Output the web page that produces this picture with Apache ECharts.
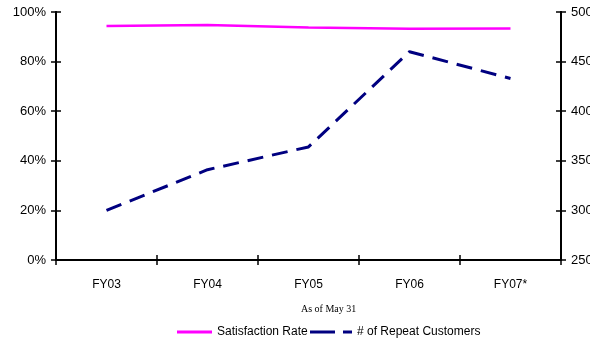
<!DOCTYPE html>
<html>
<head>
<meta charset="utf-8">
<script src="https://cdn.jsdelivr.net/npm/echarts@6/dist/echarts.min.js"></script>
<style>
html,body{margin:0;padding:0;background:#fff;}
#chart{width:590px;height:339px;}
</style>
</head>
<body>
<div id="chart"></div>
<script>
const categories = ['FY03', 'FY04', 'FY05', 'FY06', 'FY07*'];
const satisfactionRate = [94.4, 94.8, 93.7, 93.2, 93.3];
const repeatCustomers = [300, 341, 364, 460, 433];
const leftTicks = { min: 0, max: 100, interval: 20 };
const rightTicks = { min: 250, max: 500, interval: 50 };

const chart = echarts.init(document.getElementById('chart'));
const font = 'Liberation Sans, Arial, sans-serif';
const axisLine = { show: true, onZero: false, lineStyle: { color: '#000', width: 2 } };
const tickStyle = { color: '#000', width: 1.5 };

function yAx(pos, cfg, showLabel, inside, fmt) {
  return {
    type: 'value', position: pos, min: cfg.min, max: cfg.max, interval: cfg.interval,
    axisLine: axisLine,
    axisTick: { show: true, inside: inside, length: 5, lineStyle: tickStyle },
    axisLabel: { show: showLabel, color: '#000', fontFamily: font, fontSize: 13, margin: 10, formatter: fmt },
    splitLine: { show: false }
  };
}

const legendText = { fontFamily: font, fontSize: 12, color: '#000' };

chart.setOption({
  animation: false,
  backgroundColor: '#fff',
  grid: { left: 56, right: 29, top: 12, bottom: 79, containLabel: false, outerBoundsMode: 'none' },
  title: {
    text: 'As of May 31', left: 296, top: 299,
    textStyle: { fontFamily: 'Liberation Serif, Times New Roman, serif', fontSize: 10, fontWeight: 'normal', color: '#000' }
  },
  legend: [
    {
      data: [{ name: 'Satisfaction Rate', icon: 'rect' }],
      left: 177, top: 326, itemWidth: 35, itemHeight: 3, padding: 0,
      textStyle: legendText, selectedMode: false
    },
    {
      data: [{ name: '# of Repeat Customers', icon: 'path://M0,0H25V3H0Z M33,0H42V3H33Z' }],
      left: 310, top: 326, itemWidth: 42, itemHeight: 3, padding: 0,
      textStyle: legendText, selectedMode: false
    }
  ],
  xAxis: [
    {
      type: 'category', data: categories, boundaryGap: true,
      axisLine: axisLine,
      axisTick: { show: true, length: 5, lineStyle: tickStyle },
      axisLabel: { color: '#000', fontFamily: font, fontSize: 12, margin: 19 }
    },
    {
      type: 'category', data: categories, boundaryGap: true, position: 'bottom',
      axisLine: axisLine,
      axisTick: { show: true, inside: true, length: 5, lineStyle: tickStyle },
      axisLabel: { show: false }
    }
  ],
  yAxis: [
    yAx('left', leftTicks, true, false, '{value}%'),
    yAx('left', leftTicks, false, true),
    yAx('right', rightTicks, true, false, '{value}'),
    yAx('right', rightTicks, false, true)
  ],
  series: [
    {
      name: 'Satisfaction Rate', type: 'line', data: satisfactionRate, yAxisIndex: 0,
      symbol: 'none', lineStyle: { color: '#FF00FF', width: 2.5 }, itemStyle: { color: '#FF00FF' }
    },
    {
      name: '# of Repeat Customers', type: 'line', data: repeatCustomers, yAxisIndex: 2,
      symbol: 'none', lineStyle: { color: '#000080', width: 3, type: [16, 9] }, itemStyle: { color: '#000080' }
    }
  ]
});
</script>
</body>
</html>
